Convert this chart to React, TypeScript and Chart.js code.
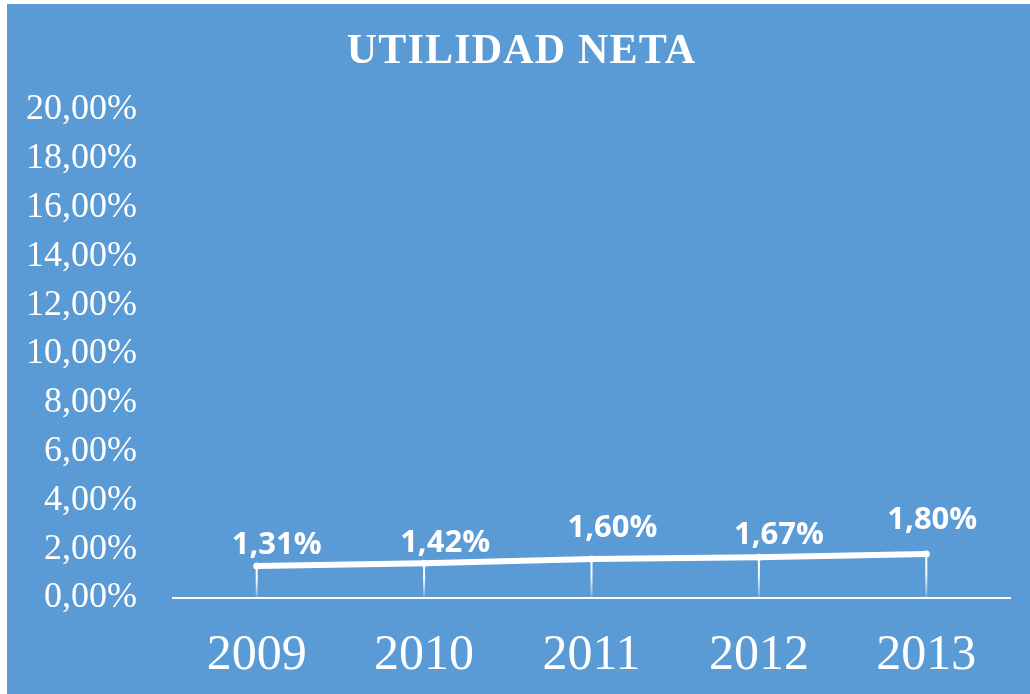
import React, { useEffect, useRef } from "react";
import { Chart, registerables } from "chart.js";

Chart.register(...registerables);

const categories = ["2009", "2010", "2011", "2012", "2013"];
const utilidadNeta = [1.31, 1.42, 1.6, 1.67, 1.8];
const yMin = 0;
const yMax = 20;
const yStep = 2;
const titleText = "UTILIDAD NETA";
// manual label nudges (as placed in the original)
const labelDx = [20, 21, 21, 20, 6];
const labelDy = [-21, -20, -31, -22, -34];

const fmt = (v: number) => v.toFixed(2).replace(".", ",") + "%";

const titlePlugin = {
  id: "spacedTitle",
  afterDraw(chart: any) {
    const ctx = chart.ctx;
    ctx.save();
    ctx.fillStyle = "#ffffff";
    ctx.font = "bold 42px 'Liberation Serif', 'Times New Roman', serif";
    (ctx as any).letterSpacing = "1.2px";
    ctx.textAlign = "center";
    ctx.textBaseline = "middle";
    ctx.fillText(titleText, chart.width / 2 + 3, 48);
    ctx.restore();
  },
};

const dropLinesPlugin = {
  id: "dropLines",
  beforeDatasetsDraw(chart: any) {
    const meta = chart.getDatasetMeta(0);
    const ctx = chart.ctx;
    const bottom = chart.scales.y.getPixelForValue(0);
    ctx.save();
    meta.data.forEach((pt: any) => {
      const g = ctx.createLinearGradient(0, pt.y, 0, bottom);
      g.addColorStop(0, "rgba(255,255,255,1)");
      g.addColorStop(0.45, "rgba(255,255,255,0.95)");
      g.addColorStop(1, "rgba(255,255,255,0.15)");
      ctx.strokeStyle = g;
      ctx.lineWidth = 2;
      ctx.beginPath();
      ctx.moveTo(pt.x, pt.y);
      ctx.lineTo(pt.x, bottom);
      ctx.stroke();
    });
    ctx.restore();
  },
};

const dataLabelsPlugin = {
  id: "dataLabelsCustom",
  afterDatasetsDraw(chart: any) {
    const meta = chart.getDatasetMeta(0);
    const ctx = chart.ctx;
    ctx.save();
    ctx.fillStyle = "#ffffff";
    ctx.font = "bold 31px 'Open Sans', 'Noto Sans', sans-serif";
    ctx.textAlign = "center";
    ctx.textBaseline = "middle";
    meta.data.forEach((pt: any, i: number) => {
      ctx.fillText(fmt(utilidadNeta[i]), pt.x + labelDx[i], pt.y + labelDy[i]);
    });
    ctx.restore();
  },
};

export default function App() {
  const ref = useRef<HTMLCanvasElement | null>(null);
  useEffect(() => {
    if (!ref.current) return;
    const chart = new Chart(ref.current, {
      type: "line",
      data: {
        labels: categories,
        datasets: [
          {
            label: titleText,
            data: utilidadNeta,
            borderColor: "#ffffff",
            backgroundColor: "#ffffff",
            borderWidth: 6,
            borderCapStyle: "round",
            borderJoinStyle: "round",
            pointRadius: 3.5,
            pointBorderWidth: 0,
            pointBackgroundColor: "#ffffff",
            tension: 0,
          },
        ],
      },
      options: {
        animation: false,
        responsive: true,
        maintainAspectRatio: false,
        layout: { padding: { left: 0, right: 20, top: 106, bottom: 0 } },
        plugins: {
          legend: { display: false },
          tooltip: { enabled: false },
          title: { display: false },
        },
        scales: {
          x: {
            type: "category",
            offset: true,
            grid: { display: false, drawTicks: false },
            border: { display: true, color: "#ffffff", width: 2 },
            ticks: {
              color: "#ffffff",
              padding: 28,
              font: { family: "'Liberation Serif', 'Times New Roman', serif", size: 50, lineHeight: 1.2 },
              maxRotation: 0,
            },
            afterFit(scale: any) {
              scale.height = 96;
            },
          },
          y: {
            min: yMin,
            max: yMax,
            grid: { display: false, drawTicks: false },
            border: { display: false },
            ticks: {
              stepSize: yStep,
              color: "#ffffff",
              padding: 36,
              font: { family: "'Liberation Serif', 'Times New Roman', serif", size: 36, lineHeight: 1.2 },
              callback: (v: any) => fmt(Number(v)),
            },
            afterFit(scale: any) {
              scale.width = 166;
            },
          },
        },
      },
      plugins: [dropLinesPlugin, dataLabelsPlugin, titlePlugin],
    } as any);
    return () => chart.destroy();
  }, []);

  return (
    <div
      style={{
        position: "fixed",
        left: 7,
        top: 4,
        width: 1023,
        height: 690,
        background: "#5B9BD5",
      }}
    >
      <canvas ref={ref} />
    </div>
  );
}
